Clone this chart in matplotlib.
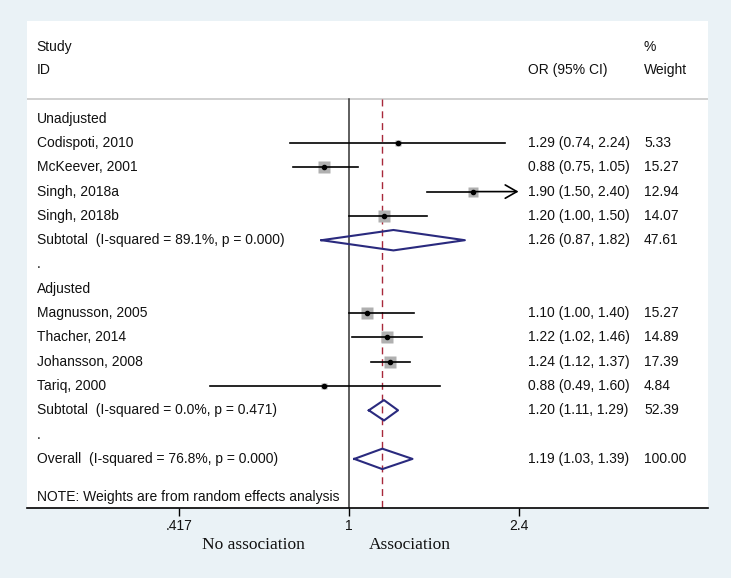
import numpy as np
import matplotlib.pyplot as plt
import matplotlib.transforms as mtransforms

# study level data
studies = ['Codispoti, 2010', 'McKeever, 2001', 'Singh, 2018a', 'Singh, 2018b',
           'Magnusson, 2005', 'Thacher, 2014', 'Johansson, 2008', 'Tariq, 2000']
study_group = [0, 0, 0, 0, 1, 1, 1, 1]
or_est = [1.29, 0.88, 1.90, 1.20, 1.10, 1.22, 1.24, 0.88]
ci_lo = [0.74, 0.75, 1.50, 1.00, 1.00, 1.02, 1.12, 0.49]
ci_hi = [2.24, 1.05, 2.40, 1.50, 1.40, 1.46, 1.37, 1.60]
weights = [5.33, 15.27, 12.94, 14.07, 15.27, 14.89, 17.39, 4.84]

# subgroups
groups = ['Unadjusted', 'Adjusted']
sub_est = [1.26, 1.20]
sub_lo = [0.87, 1.11]
sub_hi = [1.82, 1.29]
sub_w = [47.61, 52.39]
sub_i2 = ['89.1%', '0.0%']
sub_p = ['0.000', '0.471']

# overall
overall = (1.19, 1.03, 1.39)
overall_w = 100.00
overall_i2 = '76.8%'
overall_p = '0.000'

xticks = [0.417, 1, 2.4]
xticklabels = ['.417', '1', '2.4']

W, H = 731, 578
BG = '#EAF2F6'
NAVY = '#2A2A7E'
TXT = '#111111'

plt.rcParams['font.family'] = ['Liberation Sans', 'DejaVu Sans']

fig = plt.figure(figsize=(W / 100, H / 100), dpi=100, facecolor=BG)
# white panel in pixel coords
px_l, px_r, px_t, px_b = 26.7, 708.3, 20.7, 508.3
ax = fig.add_axes([px_l / W, 1 - px_b / H, (px_r - px_l) / W, (px_b - px_t) / H])
ax.set_facecolor('white')

# x mapping: 1 at 348.55 px, 194.2 px per log unit
k = 194.2
x_one = 348.55
ax.set_xscale('log')
ax.set_xlim(np.exp((px_l - x_one) / k), np.exp((px_r - x_one) / k))

# rows: row 0 at 118.7 px, spacing 24.3 px
r0, dr = 118.7, 24.3
ax.set_ylim((px_b - r0) / dr, (px_t - r0) / dr)

def row_of(py):
    return (py - r0) / dr

tx = mtransforms.blended_transform_factory(fig.transFigure, ax.transData)
x_lab = 36.7 / W
x_or = 528.0 / W
x_wt = 644.0 / W
fs = 10

def put(x, y, s):
    ax.text(x, y, s, transform=tx, fontsize=fs, va='center', color=TXT)

# header
put(x_lab, row_of(46.7), 'Study')
put(x_lab, row_of(70.0), 'ID')
put(x_or, row_of(70.0), 'OR (95% CI)')
put(x_wt, row_of(46.7), '%')
put(x_wt, row_of(70.0), 'Weight')
y_head = row_of(99.5)
ax.axhline(y_head, color='#C8C8C8', lw=1.2)

y_bot = ax.get_ylim()[0]
ax.plot([1, 1], [y_head, y_bot], color='#333333', lw=1.1, zorder=2)
ax.plot([overall[0]] * 2, [y_head, y_bot], color='#A8283A', lw=1.0,
        ls=(0, (5, 3.5)), zorder=2)


def diamond(y, est, lo, hi, h=0.42):
    xs = [lo, est, hi, est, lo]
    ys = [y, y - h, y, y + h, y]
    ax.plot(xs, ys, color=NAVY, lw=1.5, zorder=4)


row = 0
idx = np.arange(len(studies))
for g, gname in enumerate(groups):
    put(x_lab, row, gname)
    row += 1
    for i in idx[np.array(study_group) == g]:
        put(x_lab, row, studies[i])
        put(x_or, row, f'{or_est[i]:.2f} ({ci_lo[i]:.2f}, {ci_hi[i]:.2f})')
        put(x_wt, row, f'{weights[i]:.2f}')
        side = 3.0 * np.sqrt(weights[i]) * 0.72
        ax.plot(or_est[i], row, marker='s', ms=side, color='#B0B0B0', mec='none', zorder=3)
        if ci_hi[i] >= max(xticks):
            ax.plot([ci_lo[i], or_est[i]], [row, row], color='black', lw=1.2, zorder=4)
            ax.annotate('', xy=(ci_hi[i], row), xytext=(or_est[i], row),
                        arrowprops=dict(arrowstyle='->,head_length=0.7,head_width=0.4',
                                        color='black', lw=1.2, mutation_scale=12,
                                        shrinkA=0, shrinkB=0), zorder=4)
        else:
            ax.plot([ci_lo[i], ci_hi[i]], [row, row], color='black', lw=1.2, zorder=4)
        ax.plot(or_est[i], row, marker='o', ms=3, color='black', zorder=5)
        row += 1
    put(x_lab, row, f'Subtotal  (I-squared = {sub_i2[g]}, p = {sub_p[g]})')
    put(x_or, row, f'{sub_est[g]:.2f} ({sub_lo[g]:.2f}, {sub_hi[g]:.2f})')
    put(x_wt, row, f'{sub_w[g]:.2f}')
    diamond(row, sub_est[g], sub_lo[g], sub_hi[g])
    row += 1
    put(x_lab, row, '.')
    row += 1

put(x_lab, row, f'Overall  (I-squared = {overall_i2}, p = {overall_p})')
put(x_or, row, f'{overall[0]:.2f} ({overall[1]:.2f}, {overall[2]:.2f})')
put(x_wt, row, f'{overall_w:.2f}')
diamond(row, *overall)

put(x_lab, row_of(496.7), 'NOTE: Weights are from random effects analysis')

# axis
for s in ['top', 'left', 'right']:
    ax.spines[s].set_visible(False)
ax.spines['bottom'].set_color('black')
ax.spines['bottom'].set_linewidth(1.2)
ax.set_yticks([])
ax.set_xticks(xticks)
ax.set_xticklabels(xticklabels, fontsize=fs, color=TXT)
ax.minorticks_off()
ax.tick_params(axis='x', direction='out', length=5.5, width=1.0, pad=2.5)

fig.text(253.4 / W, 1 - 545 / H, 'No association', family='Liberation Serif',
         fontsize=12.5, ha='center', va='center', color=TXT)
fig.text(409.7 / W, 1 - 545 / H, 'Association', family='Liberation Serif',
         fontsize=12.5, ha='center', va='center', color=TXT)

fig.savefig('out.png', dpi=100, facecolor=BG)
